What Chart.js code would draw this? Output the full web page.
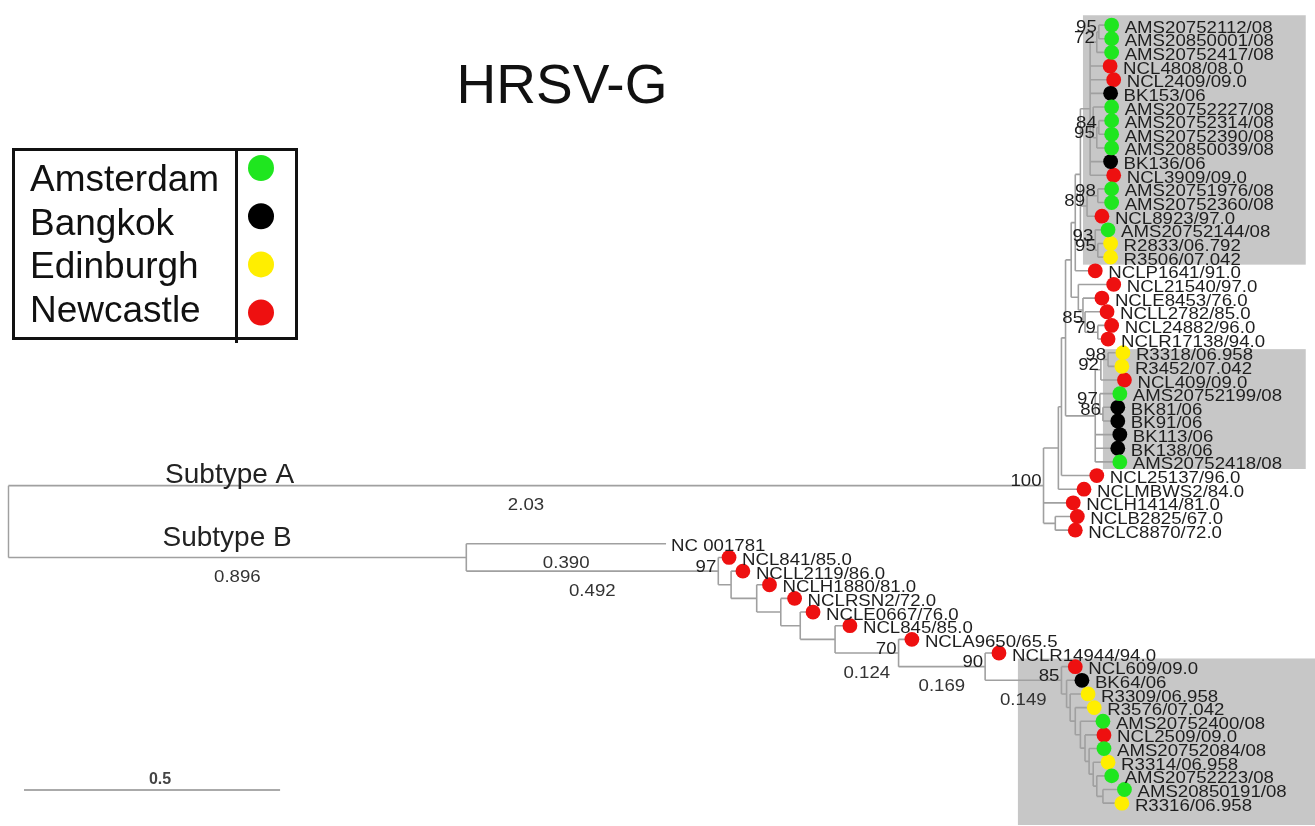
<!DOCTYPE html>
<html><head><meta charset="utf-8">
<script src="https://cdn.jsdelivr.net/npm/chart.js@4.4.0/dist/chart.umd.min.js"></script>
<style>html,body{margin:0;padding:0;background:#fff;overflow:hidden}</style>
</head><body>
<canvas id="c" width="1315" height="826"></canvas>
<script>
// ---------------- DATA ----------------
const chartTitle = 'HRSV-G';
const regions = ['Amsterdam', 'Bangkok', 'Edinburgh', 'Newcastle'];
const regionColors = ['#1fe61f', '#000000', '#ffee00', '#ee1010'];

// leaves in display order (row = index)
const leafNames = [
  'AMS20752112/08','AMS20850001/08','AMS20752417/08','NCL4808/08.0','NCL2409/09.0','BK153/06',
  'AMS20752227/08','AMS20752314/08','AMS20752390/08','AMS20850039/08','BK136/06','NCL3909/09.0',
  'AMS20751976/08','AMS20752360/08','NCL8923/97.0','AMS20752144/08','R2833/06.792','R3506/07.042',
  'NCLP1641/91.0','NCL21540/97.0','NCLE8453/76.0','NCLL2782/85.0','NCL24882/96.0','NCLR17138/94.0',
  'R3318/06.958','R3452/07.042','NCL409/09.0','AMS20752199/08','BK81/06','BK91/06','BK113/06','BK138/06',
  'AMS20752418/08','NCL25137/96.0','NCLMBWS2/84.0','NCLH1414/81.0','NCLB2825/67.0','NCLC8870/72.0',
  'NC 001781','NCL841/85.0','NCLL2119/86.0','NCLH1880/81.0','NCLRSN2/72.0','NCLE0667/76.0','NCL845/85.0',
  'NCLA9650/65.5','NCLR14944/94.0','NCL609/09.0','BK64/06','R3309/06.958','R3576/07.042','AMS20752400/08',
  'NCL2509/09.0','AMS20752084/08','R3314/06.958','AMS20752223/08','AMS20850191/08','R3316/06.958'
];
// region index per leaf (-1 = no marker)
const leafRegion = [
  0,0,0,3,3,1, 0,0,0,0,1,3, 0,0,3,0,2,2, 3,3,3,3,3,3, 2,2,3,0,1,1,1,1, 0,3,3,3,3,3,
  -1,3,3,3,3,3,3, 3,3,3,1,2,2,0, 3,0,2,0,0,2
];
// distance from root (substitutions/site)
const leafDepth = [
  2.156,2.156,2.156,2.153,2.160,2.154, 2.156,2.156,2.156,2.156,2.154,2.160,
  2.156,2.156,2.137,2.149,2.154,2.154, 2.124,2.160,2.137,2.147,2.156,2.149,
  2.178,2.176,2.181,2.172,2.168,2.168,2.172,2.168, 2.172,2.127,2.102,2.081,2.089,2.085,
  1.286,1.409,1.436,1.488,1.537,1.573,1.645, 1.766,1.936,2.085,2.098,2.110,2.122,2.139,
  2.141,2.141,2.149,2.156,2.181,2.176
];

// internal nodes
const nodeIds = ['root','A','BC','X1','X2','X3','X4','G1p','G1','P','NA','N01','S','T','U','Q','Qa','R','Ra',
  'M','M2','M3','Y79','G2','K92','Y98','W','V',
  'B','N1','N2','N3','N4','N5','N6','N7','N8','N9','C1','C2','C3','C4','C5','C6','C7','C8','C9'];
const nodeDepth = [0.002,2.023,2.046,2.052,2.058,2.066,2.077,2.085,2.095,2.114,2.127,2.131,2.120,2.127,2.131,2.108,2.129,2.124,2.129,
  2.091,2.100,2.104,2.129,2.124,2.135,2.149,2.133,2.139,
  0.896,1.388,1.413,1.463,1.510,1.548,1.616,1.740,1.909,2.058,2.068,2.075,2.085,2.095,2.104,2.112,2.120,2.127,2.139];
const nodeChildren = [
  ['A','B'], ['X1','L35','BC'], ['L36','L37'], ['X2','L34'], ['X3','L33'], ['X4','G2'], ['G1p','M'], ['G1','L18'],
  ['P','Q','R'], ['NA','L3','L4','L5','S','L10','L11'], ['N01','L2'], ['L0','L1'], ['L6','T'], ['U','L9'], ['L7','L8'],
  ['Qa','L14'], ['L12','L13'], ['L15','Ra'], ['L16','L17'],
  ['L19','M2'], ['L20','M3'], ['L21','Y79'], ['L22','L23'], ['K92','W','L30','L31','L32'], ['Y98','L26'], ['L24','L25'],
  ['L27','V'], ['L28','L29'],
  ['L38','N1'], ['L39','N2'], ['L40','N3'], ['L41','N4'], ['L42','N5'], ['L43','N6'], ['L44','N7'], ['L45','N8'],
  ['L46','N9'], ['L47','C1'], ['L48','C2'], ['L49','C3'], ['L50','C4'], ['L51','C5'], ['L52','C6'], ['L53','C7'],
  ['L54','C8'], ['L55','C9'], ['L56','L57']
];
const nodeSupport = ['','100','','','','','','','','','72','95','','95','84','89','98','93','95',
  '','','85','79','','92','98','97','86',
  '','97','','','','','','70','90','85','','','','','','','','',''];

// branch-length annotations
const branchLabelIds = ['A','B','L38','N1','N7','N8','N9'];
const branchLabelText = ['2.03','0.896','0.390','0.492','0.124','0.169','0.149'];

// subtype labels: [text, depth, row]
const subtypeText = ['Subtype A','Subtype B'];
const subtypeDepth = [0.434, 0.429];
const subtypeRow = [32.95, 37.6];

// shaded clades
const boxTopRow = [-0.72, 23.74, 46.4];
const boxBottomRow = [17.55, 32.52, 58.6];
const boxLeftDepth = [2.100, 2.139, 1.973];
const boxRightDepth = [2.535, 2.535, 2.6];

const scaleBarValue = 0.5;
const scaleBarLabel = '0.5';

// ---------------- TREE LAYOUT ----------------
const nodeIndex = {};
nodeIds.forEach((id, i) => nodeIndex[id] = i);
const parentOf = {};
nodeChildren.forEach((ch, i) => ch.forEach(c => parentOf[c] = nodeIds[i]));
const isLeaf = id => id[0] === 'L' && !(id in nodeIndex);
const leafRow = id => parseInt(id.slice(1), 10);
const yCache = {};
function yOf(id) {
  if (id in yCache) return yCache[id];
  let v;
  if (isLeaf(id)) v = leafRow(id);
  else { const ch = nodeChildren[nodeIndex[id]]; v = (yOf(ch[0]) + yOf(ch[ch.length - 1])) / 2; }
  return (yCache[id] = v);
}
function depthOf(id) { return isLeaf(id) ? leafDepth[leafRow(id)] : nodeDepth[nodeIndex[id]]; }

const branchPts = [];
nodeIds.forEach((id, i) => {
  const d = nodeDepth[i], ch = nodeChildren[i];
  branchPts.push({x: d, y: yOf(ch[0])}, {x: d, y: yOf(ch[ch.length - 1])}, {x: d, y: null});
  ch.forEach(c => {
    branchPts.push({x: d, y: yOf(c)}, {x: depthOf(c), y: yOf(c)}, {x: depthOf(c), y: null});
  });
});

const dotSets = regions.map((r, k) => ({
  type: 'scatter',
  label: r,
  data: leafNames.map((n, i) => leafRegion[i] === k ? {x: leafDepth[i], y: i} : null).filter(p => p),
  pointRadius: 7.4, pointHoverRadius: 7.4,
  pointBackgroundColor: regionColors[k], pointBorderWidth: 0, borderWidth: 0,
  order: 1
}));

const FONT = "'Liberation Sans', Arial, sans-serif";

function stretchedText(ctx, txt, x, y, align, sx) {
  ctx.save();
  ctx.translate(x, y);
  ctx.scale(sx, 1);
  ctx.textAlign = align;
  ctx.fillText(txt, 0, 0);
  ctx.restore();
}

const treePlugin = {
  id: 'treeDecor',
  beforeDatasetsDraw(chart) {
    const {ctx, scales: {x, y}} = chart;
    ctx.save();
    ctx.fillStyle = '#c7c7c7';
    boxTopRow.forEach((t, i) => {
      const x0 = x.getPixelForValue(boxLeftDepth[i]), x1 = x.getPixelForValue(boxRightDepth[i]);
      const y0 = y.getPixelForValue(t), y1 = y.getPixelForValue(boxBottomRow[i]);
      ctx.fillRect(x0, y0, x1 - x0, y1 - y0);
    });
    ctx.restore();
  },
  afterDatasetsDraw(chart) {
    const {ctx, scales: {x, y}} = chart;
    ctx.save();
    ctx.textBaseline = 'middle';
    // leaf labels
    ctx.font = '16.5px ' + FONT;
    ctx.fillStyle = '#1e1e1e';
    leafNames.forEach((n, i) => {
      const px = x.getPixelForValue(leafDepth[i]) + (leafRegion[i] < 0 ? 5 : 13);
      const py = y.getPixelForValue(i) + 3;
      stretchedText(ctx, n, px, py, 'left', 1.13);
    });
    // support values
    nodeIds.forEach((id, i) => {
      if (!nodeSupport[i]) return;
      const px = x.getPixelForValue(nodeDepth[i]) - 2;
      const py = y.getPixelForValue(yOf(id)) - 4;
      stretchedText(ctx, nodeSupport[i], px, py, 'right', 1.13);
    });
    // branch lengths
    ctx.fillStyle = '#333';
    branchLabelIds.forEach((id, k) => {
      const p = parentOf[id];
      const mid = (depthOf(p) + depthOf(id)) / 2;
      const px = x.getPixelForValue(mid);
      const py = y.getPixelForValue(yOf(id)) + 20;
      stretchedText(ctx, branchLabelText[k], px, py, 'center', 1.13);
    });
    // subtype labels
    ctx.font = '28px ' + FONT;
    ctx.fillStyle = '#222';
    subtypeText.forEach((t, k) => {
      ctx.textAlign = 'center';
      ctx.fillText(t, x.getPixelForValue(subtypeDepth[k]), y.getPixelForValue(subtypeRow[k]));
    });
    ctx.restore();
  },
  afterDraw(chart) {
    const {ctx, scales: {x}} = chart;
    ctx.save();
    // title
    ctx.fillStyle = '#111';
    ctx.font = '55px ' + FONT;
    ctx.textAlign = 'center';
    ctx.textBaseline = 'middle';
    ctx.fillText(chartTitle, 562, 88);
    // legend
    ctx.strokeStyle = '#111';
    ctx.lineWidth = 3;
    ctx.strokeRect(13.5, 149.5, 283, 189);
    ctx.beginPath(); ctx.moveTo(236.5, 149); ctx.lineTo(236.5, 343); ctx.stroke();
    ctx.font = '37px ' + FONT;
    ctx.textAlign = 'left';
    regions.forEach((r, k) => {
      const cy = 168 + k * 48.2;
      ctx.fillStyle = '#111';
      ctx.fillText(r, 30, 181 + k * 43.5);
      ctx.beginPath();
      ctx.arc(261, cy, 13, 0, Math.PI * 2);
      ctx.fillStyle = regionColors[k];
      ctx.fill();
    });
    // scale bar
    const x0 = 24, len = x.getPixelForValue(scaleBarValue) - x.getPixelForValue(0);
    ctx.strokeStyle = '#aaa';
    ctx.lineWidth = 2;
    ctx.beginPath(); ctx.moveTo(x0, 790); ctx.lineTo(x0 + len, 790); ctx.stroke();
    ctx.fillStyle = '#444';
    ctx.font = 'bold 16px ' + FONT;
    ctx.textAlign = 'center';
    ctx.fillText(scaleBarLabel, x0 + len / 2 + 8, 780);
    ctx.restore();
  }
};

new Chart(document.getElementById('c'), {
  type: 'scatter',
  data: {
    datasets: [
      ...dotSets,
      {
        type: 'line', label: 'branches', data: branchPts,
        borderColor: '#a0a0a0', borderWidth: 1.6, pointRadius: 0, pointHoverRadius: 0,
        spanGaps: false, fill: false, tension: 0, order: 10
      }
    ]
  },
  options: {
    responsive: false, animation: false, events: [],
    layout: {padding: 0},
    plugins: {legend: {display: false}, tooltip: {enabled: false}, title: {display: false}},
    scales: {
      x: {type: 'linear', display: false, min: 0, max: 1315 / 518},
      y: {type: 'linear', display: false, reverse: true, min: -1.295, max: 58.13}
    }
  },
  plugins: [treePlugin]
});
</script>
</body></html>
